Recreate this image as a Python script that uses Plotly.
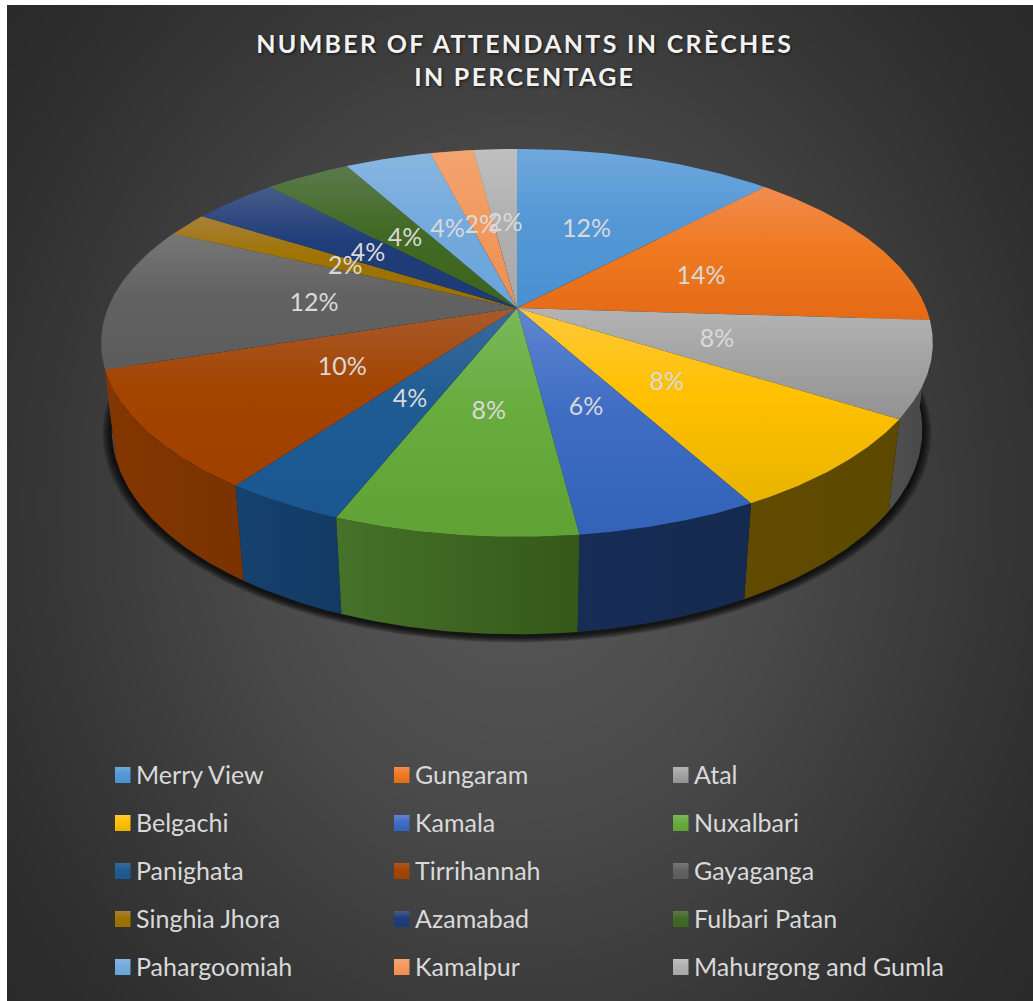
import numpy as np
import plotly.graph_objects as go

categories = ["Merry View", "Gungaram", "Atal", "Belgachi", "Kamala", "Nuxalbari", "Panighata",
              "Tirrihannah", "Gayaganga", "Singhia Jhora", "Azamabad", "Fulbari Patan",
              "Pahargoomiah", "Kamalpur", "Mahurgong and Gumla"]
percentages = [12, 14, 8, 8, 6, 8, 4, 10, 12, 2, 4, 4, 4, 2, 2]

top_colors = ["#6fa8dc", "#f28c50", "#b4b4b4", "#ffc93c", "#5f86cf", "#7ab85a", "#3a6a9a",
              "#a85a2c", "#777777", "#a8803a", "#475c8a", "#5c7a4e", "#88b6e0", "#f4a470", "#c0c0c0"]
mid_colors = ["#5498d6", "#ef7a22", "#a4a4a4", "#ffc000", "#3f6dc4", "#68ac3e", "#1f5c94",
              "#a34400", "#626262", "#9f7300", "#1f3d7a", "#426a24", "#74aadd", "#f19a60", "#b0b0b0"]
bottom_colors = ["#4a90d0", "#e56a16", "#929292", "#e8b400", "#3263b8", "#60a235", "#1a5690",
                 "#a04000", "#5c5c5c", "#9a7000", "#1d3a74", "#3e6420", "#68a4da", "#ee8e50", "#a8a8a8"]
wall_left = ["#2f5f8f", "#8f4a1a", "#505050", "#604b00", "#182d56", "#46722a", "#15426f",
             "#843600", "#4c4c4c", "#5c4500", "#16294c", "#2a3f1a", "#4a6a85", "#8f5a36", "#6e6e6e"]
wall_right = ["#2f5f8f", "#8f4a1a", "#464646", "#5c4800", "#152a50", "#345818", "#123a63",
              "#7a3300", "#4c4c4c", "#5c4500", "#16294c", "#2a3f1a", "#4a6a85", "#8f5a36", "#6e6e6e"]

title_lines = ["NUMBER OF ATTENDANTS IN CRÈCHES", "IN PERCENTAGE"]

W, H_PAGE = 1033, 1001
CX, CY = 517.0, 308.0
A, B, K = 409.0, 187.7, 0.18   # perspective of the pie's top disc
DEPTH, M = 88.0, 0.025         # wall height and its perspective


def proj(t, r=1.0, z=0.0):
    u, v = r * np.sin(t), r * np.cos(t)
    den = 1 + K * v + M * z
    return CX + A * u / den, CY - (B * v - DEPTH * z) / den


def scale3(i):
    return [[0, top_colors[i]], [0.45, mid_colors[i]], [1, bottom_colors[i]]]


fig = go.Figure()

# Backdrop: radial grey gradient
gx = np.arange(12.0, W + 5, 10.0)
gy = np.arange(10.0, H_PAGE + 5, 10.0)
XX, YY = np.meshgrid(gx, gy)
RR = np.sqrt(((XX - 517) / 517) ** 2 + ((YY - 505) / 620) ** 2) / np.sqrt(2)
fig.add_trace(go.Heatmap(x=gx, y=gy, z=np.clip(RR, 0, 1), zmin=0, zmax=1, zsmooth="best", showscale=False,
                         colorscale=[[0, "#5a5a5a"], [0.35, "#4a4a4a"], [0.62, "#383838"], [0.8, "#2d2d2d"],
                                     [1, "#272727"]], hoverinfo="skip"))

# Soft shadow under the pie
tt = np.linspace(0, 2 * np.pi, 361)
for d in np.linspace(0.022, 0.002, 9):
    sx, sy = proj(tt, 1 + d, 1.0)
    fig.add_trace(go.Scatter(x=sx, y=sy + 2, mode="lines", fill="toself", line=dict(width=0),
                             fillcolor="rgba(0,0,0,0.13)", hoverinfo="skip", showlegend=False))

fr = np.array(percentages, dtype=float) / sum(percentages)
cum = np.concatenate([[0], np.cumsum(fr)]) * 2 * np.pi

# Walls, back to front
order = sorted(range(len(fr)), key=lambda i: -np.cos((cum[i] + cum[i + 1]) / 2))
for i in order:
    t = np.linspace(cum[i], cum[i + 1], 60)
    x1, y1 = proj(t)
    x2, y2 = proj(t, 1.0, 1.0)
    px = np.concatenate([x1, x2[::-1], x1[:1]])
    py = np.concatenate([y1, y2[::-1], y1[:1]])
    fig.add_trace(go.Scatter(x=px, y=py, mode="lines", fill="toself", line=dict(width=0), hoverinfo="skip",
                             showlegend=False,
                             fillgradient=dict(type="horizontal", start=float(px.min()), stop=float(px.max()),
                                               colorscale=[[0, wall_left[i]], [1, wall_right[i]]])))

# Top faces
for i, cat in enumerate(categories):
    t = np.linspace(cum[i], cum[i + 1], 60)
    x1, y1 = proj(t)
    px = np.concatenate([[CX], x1, [CX]])
    py = np.concatenate([[CY], y1, [CY]])
    fig.add_trace(go.Scatter(x=px, y=py, mode="lines", fill="toself", line=dict(width=0), name=cat,
                             text=f"{cat}: {percentages[i]}%", hoverinfo="text", showlegend=False,
                             fillgradient=dict(type="vertical", start=float(py.min()), stop=float(py.max()),
                                               colorscale=scale3(i))))

# Data labels
mid = (cum[:-1] + cum[1:]) / 2
lx, ly = proj(mid, 0.5)
fig.add_trace(go.Scatter(x=lx, y=ly + 3, mode="text", text=[f"{p}%" for p in percentages], showlegend=False,
                         hoverinfo="skip", textposition="middle center",
                         textfont=dict(family="Lato", size=25, color="#d9d9d9")))

# Legend: three columns, five rows
COL_X, ROW_Y, KEY = [115, 394, 673], [775, 823, 871, 919, 967], 15.5
for i, cat in enumerate(categories):
    kx, ky = COL_X[i % 3], ROW_Y[i // 3]
    fig.add_trace(go.Scatter(x=[kx, kx + KEY, kx + KEY, kx, kx], y=[ky - 8, ky - 8, ky + 8, ky + 8, ky - 8],
                             mode="lines", fill="toself", line=dict(width=0), hoverinfo="skip", showlegend=False,
                             fillgradient=dict(type="vertical", start=ky - 8, stop=ky + 8, colorscale=scale3(i))))
    fig.add_annotation(x=kx + 19, y=ky - 1, text=cat, showarrow=False, xanchor="left", yanchor="middle",
                       font=dict(family="Lato", size=25, color="#d9d9d9"))

fig.update_layout(
    width=W, height=H_PAGE, margin=dict(l=0, r=0, t=0, b=0), paper_bgcolor="white", plot_bgcolor="white",
    autosize=False, showlegend=False,
    xaxis=dict(range=[0, W], visible=False, fixedrange=True),
    yaxis=dict(range=[H_PAGE, 0], visible=False, fixedrange=True),
    title=dict(text="<br>".join(title_lines), x=0.508, xanchor="center", y=1 - 53 / H_PAGE, yanchor="middle",
               font=dict(family="Lato", size=25, weight=700, color="#f2f2f2",
                         shadow="1px 1px 3px rgba(0,0,0,0.7)")),
)

post = """
document.documentElement.style.overflow='hidden';
document.body.style.margin='0';
document.querySelectorAll('.gtitle').forEach(function(e){e.style.letterSpacing='2.3px';});
"""
fig.write_html("out.html", post_script=post, config=dict(displayModeBar=False))
